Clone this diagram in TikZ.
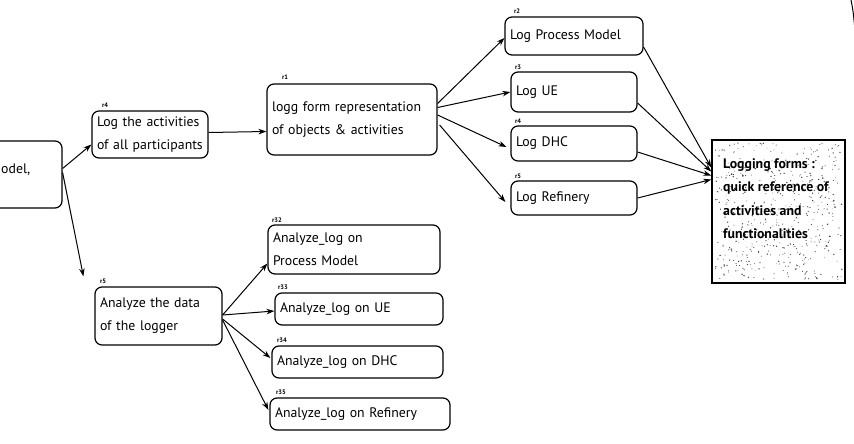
\documentclass[tikz,border=0pt]{standalone}
\usepackage{fontspec}
\setmainfont{PT Sans}
\usetikzlibrary{arrows.meta}
\newcommand{\oneline}[1]{\mbox{#1}}
\begin{document}
\begin{tikzpicture}[x=1pt,y=-1pt,
  rbox/.style={draw, line width=1.2pt, rounded corners=7pt, align=left,
    inner xsep=5pt, inner ysep=0pt, font=\fontsize{13.8}{23}\selectfont},
  tag/.style={font=\fontsize{6.5}{6.5}\selectfont\bfseries, inner sep=0.5pt, anchor=south west},
  arr/.style={line width=1pt, -{Stealth[length=8pt,width=5.5pt]}},
  link/.style={line width=1pt}
]
\useasboundingbox (0,0) rectangle (854,444);
\clip (0,0) rectangle (854,444);

% parent task, partly outside the sheet
\node[rbox, minimum width=150pt, minimum height=67pt] (mdl) at (-13,174.5) {};
\node[anchor=west, inner sep=0pt, font=\fontsize{13.8}{23}\selectfont] (mdltxt) at (1,170) {odel,};

% logging branch
\node[rbox, minimum width=116pt, minimum height=47pt, text width=106pt] (act) at (150,134.5)
  {\oneline{Log the activities}\\\oneline{of all participants}};
\node[rbox, minimum width=170pt, minimum height=71pt, text width=160pt] (lgf) at (352,119.5)
  {\oneline{logg form representation}\\\oneline{of objects \& activities}};
\node[rbox, minimum width=138pt, minimum height=38pt, text width=128pt] (lpm) at (574,36) {\oneline{Log Process Model}};
\node[rbox, minimum width=126pt, minimum height=40pt, text width=116pt] (lue) at (574,92) {Log UE};
\node[rbox, minimum width=126pt, minimum height=35pt, text width=116pt] (ldhc) at (574,143.5) {Log DHC};
\node[rbox, minimum width=126pt, minimum height=34pt, text width=116pt] (lref) at (574,198) {Log Refinery};

% reference card with stippled background
\node[draw, line width=1.5pt, minimum width=133pt, minimum height=143pt, inner sep=0pt] (card) at (778.5,211.5) {};
\begin{scope}
  \pgfmathsetseed{4711}
  \foreach \i in {1,...,520}{
    \pgfmathsetmacro\rx{715+127*rnd}
    \pgfmathsetmacro\ry{143+137*rnd}
    \pgfmathsetmacro\rr{0.35+0.4*rnd}
    \fill[black!75] (\rx,\ry) circle (\rr pt);
  }
\end{scope}
\node[align=left, anchor=north west, inner sep=0pt, font=\fontsize{13.8}{23.5}\selectfont\bfseries] (cardtxt) at (723,158)
  {Logging forms :\\quick reference of\\activities and\\functionalities};

% analysis branch
\node[rbox, minimum width=127pt, minimum height=58pt, text width=117pt] (ana) at (158.5,316)
  {\oneline{Analyze the data}\\\oneline{of the logger}};
\node[rbox, minimum width=172pt, minimum height=49pt, text width=162pt] (apm) at (354,249.5)
  {\oneline{Analyze\_log on}\\\oneline{Process Model}};
\node[rbox, minimum width=168pt, minimum height=32pt, text width=158pt] (aue) at (359,309) {\oneline{Analyze\_log on UE}};
\node[rbox, minimum width=171pt, minimum height=32pt, text width=161pt] (adhc) at (357.5,362) {\oneline{Analyze\_log on DHC}};
\node[rbox, minimum width=180pt, minimum height=32pt, text width=170pt] (aref) at (360,414) {\oneline{Analyze\_log on Refinery}};

% identifiers
\node[tag] at ([xshift=10pt,yshift=2pt]act.north west) {r4};
\node[tag] at ([xshift=15pt,yshift=3pt]lgf.north west) {r1};
\node[tag] at ([xshift=9pt,yshift=2pt]lpm.north west) {r2};
\node[tag] at ([xshift=4pt,yshift=1pt]lue.north west) {r3};
\node[tag] at ([xshift=4pt,yshift=1pt]ldhc.north west) {r4};
\node[tag] at ([xshift=4pt,yshift=1pt]lref.north west) {r5};
\node[tag] at ([xshift=5pt,yshift=2pt]ana.north west) {r5};
\node[tag] at ([xshift=4pt,yshift=1pt]apm.north west) {r32};
\node[tag] at ([xshift=3pt,yshift=2pt]aue.north west) {r33};
\node[tag] at ([xshift=5pt,yshift=2pt]adhc.north west) {r34};
\node[tag] at ([xshift=6pt,yshift=2pt]aref.north west) {r35};

% connectors
\draw[arr] ([yshift=6pt]mdl.east) -- ([yshift=-10pt]act.west);
\draw[arr] ([yshift=2pt]mdl.east) -- ([xshift=-11pt,yshift=10pt]ana.north west);
\draw[arr] ([yshift=2pt]act.east) -- ([yshift=-12pt]lgf.west);

\draw[arr] ([yshift=16pt]lgf.east) -- ([yshift=-2pt]lpm.west);
\draw[arr] ([yshift=12pt]lgf.east) -- (lue.west);
\draw[arr] ([yshift=4.5pt]lgf.east) -- ([xshift=-4pt,yshift=-3.5pt]ldhc.west);
\draw[arr] ([xshift=2pt,yshift=-5.5pt]lgf.east) -- ([xshift=-5pt,yshift=-4pt]lref.west);

\draw[arr] ([yshift=-11pt]lpm.east) -- ([yshift=44pt]card.west);
\draw[arr] ([yshift=-11pt]lue.east) -- ([yshift=40pt]card.west);
\draw[arr] ([yshift=-8.5pt]ldhc.east) -- ([yshift=36pt]card.west);
\draw[arr] (lref.east) -- ([yshift=32pt]card.west);

\draw[arr] ([yshift=1pt]ana.east) -- ([yshift=-14pt]apm.west);
\draw[arr] ([yshift=1pt]ana.east) -- ([yshift=-2pt]aue.west);
\draw[arr] ([yshift=-3pt]ana.east) -- ([xshift=-1pt,yshift=4pt]adhc.west);
\draw[arr] ([yshift=-4pt]ana.east) -- ([xshift=-1pt,yshift=4pt]aref.west);

% margin stroke at the upper right edge
\draw[link] (851,0) .. controls (853,10) .. (855,30);
\end{tikzpicture}
\end{document}
